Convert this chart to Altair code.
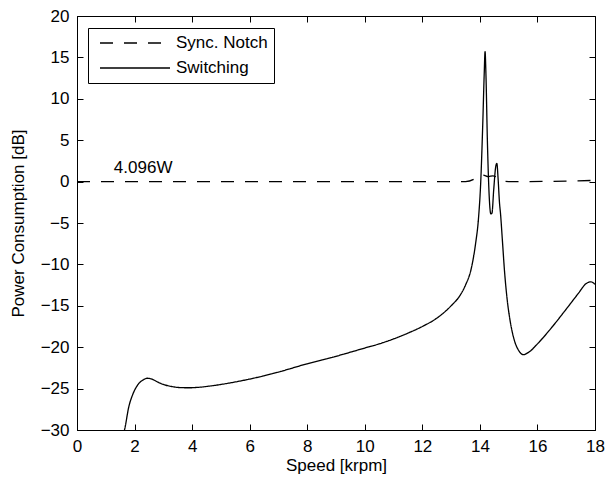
import altair as alt
import pandas as pd

# ---- data ----
series_names = ["Sync. Notch", "Switching"]

switch_x = [1.55, 1.65, 1.80, 1.95, 2.10, 2.30, 2.45, 2.60, 2.80, 3.00, 3.30, 3.60, 3.90,
            4.20, 4.60, 5.00, 5.50, 6.00, 6.50, 7.00, 8.00, 9.00, 10.00, 10.50, 11.00,
            11.50, 12.00, 12.50, 13.00, 13.30, 13.50, 13.70, 13.85, 13.95, 14.03, 14.10,
            14.15, 14.18, 14.21, 14.26, 14.32, 14.38, 14.42, 14.48, 14.55, 14.59, 14.63,
            14.68, 14.72, 14.78, 14.86, 14.95, 15.05, 15.20, 15.35, 15.50, 15.70, 16.00,
            16.50, 17.00, 17.40, 17.70, 17.85, 18.00]
switch_y = [-31.0, -30.0, -27.2, -25.6, -24.6, -23.95, -23.75, -23.85, -24.2, -24.5, -24.75,
            -24.88, -24.9, -24.85, -24.7, -24.5, -24.2, -23.85, -23.45, -23.0, -22.0, -21.1,
            -20.1, -19.6, -19.0, -18.3, -17.5, -16.5, -15.0, -13.8, -12.5, -10.5, -7.5, -4.5,
            0.0, 7.0, 13.0, 15.7, 13.0, 5.0, -1.5, -3.9, -3.8, -1.0, 1.8, 2.2, 0.5, -2.5,
            -4.0, -7.0, -11.0, -14.3, -16.8, -19.2, -20.4, -20.9, -20.6, -19.6, -17.6, -15.4,
            -13.6, -12.3, -12.1, -12.4]

notch_x = [0.0, 13.5, 13.8, 13.95, 14.1, 14.3, 14.45, 14.6, 14.75, 15.0, 17.0, 18.0]
notch_y = [0.0, 0.0, 0.3, 0.7, 0.8, 0.6, 0.7, 0.5, 0.1, 0.0, 0.05, 0.15]

x_ticks = [0, 2, 4, 6, 8, 10, 12, 14, 16, 18]
y_ticks = [-30, -25, -20, -15, -10, -5, 0, 5, 10, 15, 20]

annot_text = "4.096W"
annot_x = 1.28
annot_y = 1.07

df = pd.concat([
    pd.DataFrame({"x": notch_x, "y": notch_y, "series": series_names[0]}),
    pd.DataFrame({"x": switch_x, "y": switch_y, "series": series_names[1]}),
], ignore_index=True)

W, H = 518, 414
FONT = "Liberation Sans"
FS = 17

xs = alt.Scale(domain=[0, 18], nice=False, zero=False)
ys = alt.Scale(domain=[-30, 20], nice=False, zero=False)

base = alt.Chart(df)

lines = base.mark_line(color="black", strokeWidth=1.3, clip=True, interpolate="monotone").encode(
    x=alt.X("x:Q", scale=xs,
            axis=alt.Axis(orient="bottom", values=x_ticks, title="Speed [krpm]",
                          ticks=False, labelPadding=8, grid=False, titlePadding=3,
                          labelFlush=False)),
    y=alt.Y("y:Q", scale=ys,
            axis=alt.Axis(orient="left", values=y_ticks, title="Power Consumption [dB]",
                          ticks=False, labelPadding=8, grid=False, titlePadding=13,
                          labelFlush=False)),
    strokeDash=alt.StrokeDash(
        "series:N",
        scale=alt.Scale(domain=series_names, range=[[13, 11], [1, 0]]),
        legend=alt.Legend(title=None, orient="none", legendX=11, legendY=12,
                          direction="vertical", symbolType="stroke", symbolSize=4900,
                          symbolStrokeWidth=1.3, symbolStrokeColor="black",
                          symbolOffset=5, labelFontSize=FS, labelFont=FONT,
                          labelColor="black", labelOffset=5, strokeColor="black",
                          fillColor="white", padding=6, rowPadding=7, clipHeight=18),
    ),
)

tick_style = dict(labels=False, domain=False, ticks=True, tickSize=6,
                  tickColor="black", grid=False, title=None)

ticks_a = base.mark_point(opacity=0).encode(
    x=alt.X("x:Q", scale=xs, axis=alt.Axis(orient="top", offset=-H, values=x_ticks, **tick_style)),
    y=alt.Y("y:Q", scale=ys, axis=alt.Axis(orient="right", offset=-W, values=y_ticks, **tick_style)),
)
ticks_b = base.mark_point(opacity=0).encode(
    x=alt.X("x:Q", scale=xs, axis=alt.Axis(orient="bottom", offset=-H, values=x_ticks, **tick_style)),
    y=alt.Y("y:Q", scale=ys, axis=alt.Axis(orient="left", offset=-W, values=y_ticks, **tick_style)),
)

annot = alt.Chart(pd.DataFrame({"x": [annot_x], "y": [annot_y], "t": [annot_text]})).mark_text(
    align="left", baseline="alphabetic", fontSize=FS, font=FONT, color="black"
).encode(x=alt.X("x:Q", scale=xs, axis=None), y=alt.Y("y:Q", scale=ys, axis=None), text="t:N")

chart = alt.layer(lines, ticks_a, ticks_b, annot).resolve_axis(
    x="independent", y="independent"
).properties(
    width=W, height=H,
    autosize=alt.AutoSizeParams(type="none"),
    padding={"left": 69, "top": 8, "right": 10, "bottom": 45},
).configure_view(
    stroke="black", strokeWidth=1
).configure_axis(
    labelFont=FONT, labelFontSize=FS, labelColor="black",
    titleFont=FONT, titleFontSize=FS, titleColor="black", titleFontWeight="normal",
    domainColor="black", domainWidth=1
)

chart.save("out.html", embed_options={"renderer": "svg", "actions": False})
